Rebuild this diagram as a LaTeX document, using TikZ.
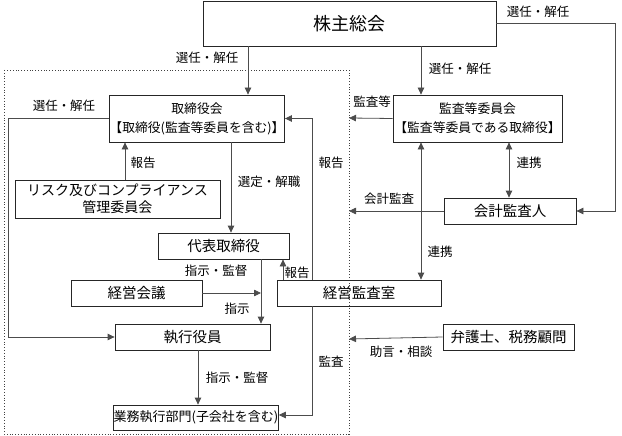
\documentclass[tikz,border=0pt]{standalone}
\usepackage{fontspec}
\setmainfont{Noto Sans CJK JP}
\usetikzlibrary{arrows.meta}
\tikzset{
  box/.style={draw=black!85, line width=0.8pt, rectangle, inner sep=0pt, align=center, font=\fontsize{13}{19}\selectfont},
  lbl/.style={font=\fontsize{12.5}{14}\selectfont, inner sep=0pt},
  conn/.style={draw=black!70, line width=0.8pt},
  arr/.style={conn, -{Triangle[length=7pt,width=6.5pt]}},
  darr/.style={conn, {Triangle[length=7pt,width=6.5pt]}-{Triangle[length=7pt,width=6.5pt]}},
}
\begin{document}
\begin{tikzpicture}[x=1pt,y=-1pt]
\useasboundingbox (0,0) rectangle (622,436);
% dotted frame
\draw[dotted, black!75, line width=0.8pt] (4,70) rectangle (349,434);
% boxes
\node[box, minimum width=293pt, minimum height=45pt, font=\fontsize{18}{20}\selectfont] (kabu) at (349.5,23.5) {株主総会};
\node[box, minimum width=170pt, minimum height=47pt, font=\fontsize{12.8}{19}\selectfont] (tori) at (197,118.5) {取締役会\\【取締役(監査等委員を含む)】};
\node[box, minimum width=169pt, minimum height=47pt, font=\fontsize{12.8}{19}\selectfont] (kansa) at (477.5,118.5) {監査等委員会\\【監査等委員である取締役】};
\node[box, minimum width=205pt, minimum height=38pt, font=\fontsize{14}{17}\selectfont] (risk) at (117.5,199) {リスク及びコンプライアンス\\管理委員会};
\node[box, minimum width=131pt, minimum height=26pt, font=\fontsize{14.5}{16}\selectfont] (daihyo) at (223.5,246) {代表取締役};
\node[box, minimum width=132pt, minimum height=26pt, font=\fontsize{14.5}{16}\selectfont] (kaikei) at (510,211) {会計監査人};
\node[box, minimum width=131pt, minimum height=26pt, font=\fontsize{14.5}{16}\selectfont] (keiei) at (136.5,293) {経営会議};
\node[box, minimum width=164pt, minimum height=26pt, font=\fontsize{14.5}{16}\selectfont] (keieikansa) at (359,293) {経営監査室};
\node[box, minimum width=155pt, minimum height=26pt, font=\fontsize{14.5}{16}\selectfont] (shikko) at (192.5,337) {執行役員};
\node[box, minimum width=131pt, minimum height=26pt, font=\fontsize{14.5}{16}\selectfont] (bengo) at (508.5,337) {弁護士、税務顧問};
\node[box, minimum width=162pt, minimum height=25pt, font=\fontsize{13}{16}\selectfont] (gyomu) at (196,417.5) {業務執行部門(子会社を含む)};
% free ends on the dotted frame
\coordinate (fKansa) at (349,118);
\coordinate (fKaikei) at (349,211);
\coordinate (fBengo) at (349,339);
\coordinate (jShiji) at (261,293);
% connectors
\draw[arr] (248,0 |- kabu.south) -- (248,0 |- tori.north);
\node[lbl] (l1) at (207,58) {選任・解任};
\draw[arr] (421,0 |- kabu.south) -- (421,0 |- kansa.north);
\node[lbl] (l2) at (460,69) {選任・解任};
\draw[arr] (kabu.east |- 0,23) -- (615,23) -- (615,0 |- kaikei.east) -- (kaikei.east);
\node[lbl] (l3) at (538,12) {選任・解任};
\draw[arr] (tori.west) -- (8,0 |- tori.west) -- (8,0 |- shikko.west) -- (shikko.west);
\node[lbl] (l4) at (64,106) {選任・解任};
\draw[arr] (125,0 |- risk.north) -- (125,0 |- tori.south);
\node[lbl] (l5) at (143,163) {報告};
\draw[arr] (231,0 |- tori.south) -- (231,0 |- daihyo.north);
\node[lbl] (l6) at (269,182) {選定・解職};
\draw[arr] (312,0 |- keieikansa.north) -- (312,0 |- tori.east) -- (tori.east);
\node[lbl] (l7) at (331,163) {報告};
\draw[arr] (312,0 |- keieikansa.south) -- (312,415) -- (gyomu.east |- 0,415);
\node[lbl] (l8) at (331,362) {監査};
\draw[arr] (kansa.west) -- (fKansa);
\node[lbl] (l9) at (372,102) {監査等};
\draw[arr] (kaikei.west) -- (fKaikei);
\node[lbl] (l10) at (389,199) {会計監査};
\draw[darr] (509,0 |- kansa.south) -- (509,0 |- kaikei.north);
\node[lbl] (l11) at (529,163) {連携};
\draw[darr] (421,0 |- kansa.south) -- (421,0 |- keieikansa.north);
\node[lbl] (l12) at (440,252) {連携};
\draw[arr] (261,0 |- daihyo.south) -- (261,0 |- shikko.north);
\node[lbl] (l13) at (216,271) {指示・監督};
\node[lbl] (l14) at (237,309) {指示};
\draw[arr] (keiei.east) -- (jShiji);
\draw[arr] (283,0 |- keieikansa.north) -- (283,0 |- daihyo.south);
\node[lbl] (l15) at (297,273) {報告};
\draw[arr] (198,0 |- shikko.south) -- (198,0 |- gyomu.north);
\node[lbl] (l16) at (237,378) {指示・監督};
\draw[arr] (bengo.west) -- (fBengo);
\node[lbl] (l17) at (401,352) {助言・相談};
\end{tikzpicture}
\end{document}
